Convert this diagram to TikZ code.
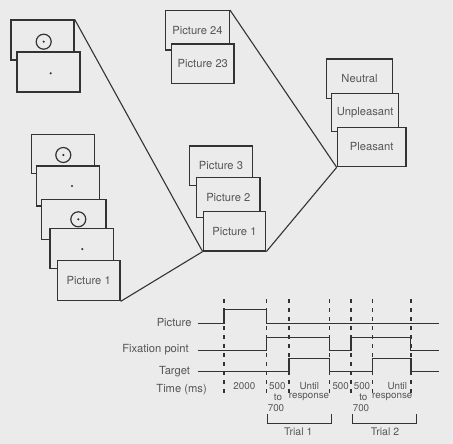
\documentclass[tikz,border=0pt]{standalone}
\usepackage{fontspec}
\setmainfont{TeX Gyre Heros}
\definecolor{bg}{HTML}{EBEBEB}
\definecolor{ln}{HTML}{333333}
\definecolor{tx}{HTML}{555555}
\begin{document}
\begin{tikzpicture}[x=1pt,y=-1pt,
  card/.style={draw=ln, fill=bg, line width=1.3pt, rectangle, inner sep=0pt, text=tx,
               font=\fontsize{11.2}{13}\selectfont},
  conn/.style={draw=ln, line width=1.1pt},
  sig/.style={draw=ln, line width=1.5pt},
  vtick/.style={draw=ln, line width=1.3pt, dash pattern=on 4pt off 5pt},
  lbl/.style={text=tx, font=\fontsize{11.2}{13}\selectfont, inner sep=0pt},
  tlbl/.style={text=tx, font=\fontsize{9.8}{11}\selectfont, inner sep=0pt},
  trl/.style={text=tx, font=\fontsize{10.5}{12}\selectfont, inner sep=0pt},
  ring/.style={draw=ln, line width=1.2pt},
  dotm/.style={fill=ln}]
\fill[bg] (0,0) rectangle (453,444);
\useasboundingbox (0,0) rectangle (453,444);

% top-left pair
\node[card, minimum width=63pt, minimum height=40pt] (a1) at (42.5,40) {};
\node[card, minimum width=63pt, minimum height=40pt] (a2) at (48.5,72) {};
\draw[ring] (43.7,41.7) circle[radius=7.5];
\fill[dotm] (43.7,41.7) circle[radius=1.2];
\fill[dotm] (50.7,73.3) circle[radius=1.2];

% left stack
\node[card, minimum width=62.6pt, minimum height=39pt] (b1) at (63,153.8) {};
\node[card, minimum width=62.6pt, minimum height=40pt] (b2) at (68,186) {};
\node[card, minimum width=64.3pt, minimum height=40pt] (b3) at (73.8,219.3) {};
\node[card, minimum width=63.3pt, minimum height=39.6pt] (b4) at (81.7,248.5) {};
\node[card, minimum width=62.7pt, minimum height=40pt] (b5) at (88.7,280.7) {Picture 1};
\draw[ring] (63.3,155) circle[radius=7.5];
\fill[dotm] (63.3,155) circle[radius=1.2];
\fill[dotm] (72,186) circle[radius=1.2];
\draw[ring] (78.3,219.3) circle[radius=7.5];
\fill[dotm] (78.3,219.3) circle[radius=1.2];
\fill[dotm] (82.3,249) circle[radius=1.2];

% top middle pair
\node[card, minimum width=63.6pt, minimum height=39.3pt] (c1) at (197.5,30.3) {Picture 24};
\node[card, minimum width=62.3pt, minimum height=39.3pt] (c2) at (202.8,63.7) {Picture 23};

% middle stack
\node[card, minimum width=63.4pt, minimum height=39.7pt] (d1) at (221,165.8) {Picture 3};
\node[card, minimum width=63.4pt, minimum height=39.7pt] (d2) at (228.3,197.5) {Picture 2};
\node[card, minimum width=62.4pt, minimum height=39.3pt] (d3) at (234.5,231.3) {Picture 1};

% right stack
\node[card, minimum width=65.6pt, minimum height=39.3pt] (e1) at (359.5,78.7) {Neutral};
\node[card, minimum width=67pt, minimum height=38.4pt] (e2) at (365.2,112.5) {Unpleasant};
\node[card, minimum width=68.7pt, minimum height=39.4pt] (e3) at (371.7,147) {Pleasant};

% connectors
\draw[conn] (a1.north east) -- (d3.south west);
\draw[conn] (b5.south east) -- (d3.south west);
\draw[conn] (c1.north east) -- (e3.south west);
\draw[conn] (d3.south east) -- (e3.south west);

% timing diagram labels
\node[lbl, anchor=east] (lpic) at (191.7,322.7) {Picture};
\node[lbl, anchor=east] (lfix) at (189,350) {Fixation point};
\node[lbl, anchor=east] (ltar) at (190.3,371.5) {Target};
\node[lbl, anchor=east] (ltim) at (207,390) {Time (ms)};

% dashed time markers
\foreach \xx in {224,266.7,289,329.3,351,372.7,411}
  \draw[vtick] (\xx,299) -- (\xx,397);

% signals
\draw[sig] (197.7,323.7) -- (224,323.7) -- (224,309.3) -- (266.7,309.3) -- (266.7,323.7) -- (439.3,323.7);
\draw[sig] (197.7,350.7) -- (266.7,350.7) -- (266.7,337.7) -- (329.3,337.7) -- (329.3,350.7)
  -- (351,350.7) -- (351,337.7) -- (410.7,337.7) -- (410.7,350.7) -- (439.3,350.7);
\draw[sig] (197.7,371.7) -- (289,371.7) -- (289,358.7) -- (329.3,358.7) -- (329.3,371.7)
  -- (372.7,371.7) -- (372.7,358.7) -- (411,358.7) -- (411,371.7) -- (439.3,371.7);

% time values
\node[tlbl] (t1) at (244.3,386) {2000};
\node[tlbl] (t2) at (277.3,386) {500};
\node[tlbl] (t2b) at (278,397.3) {to};
\node[tlbl] (t2c) at (276,408.3) {700};
\node[tlbl] (t3) at (309.3,386) {Until};
\node[tlbl] (t3b) at (309,397.3) {response};
\node[tlbl] (t4) at (340.7,386) {500};
\node[tlbl] (t5) at (362,386) {500};
\node[tlbl] (t5b) at (363.3,397.3) {to};
\node[tlbl] (t5c) at (361,408.3) {700};
\node[tlbl] (t6) at (397.3,386) {Until};
\node[tlbl] (t6b) at (392.3,397.3) {response};

% trial brackets
\draw[ln, line width=1.2pt] (267.3,414.3) -- (267.3,423.3) -- (331.7,423.3) -- (331.7,414.3);
\draw[ln, line width=1.2pt] (352.3,414.3) -- (352.3,423.3) -- (416.7,423.3) -- (416.7,414.3);
\node[trl] (tr1) at (298.3,432) {Trial 1};
\node[trl] (tr2) at (385,432) {Trial 2};
\end{tikzpicture}
\end{document}
